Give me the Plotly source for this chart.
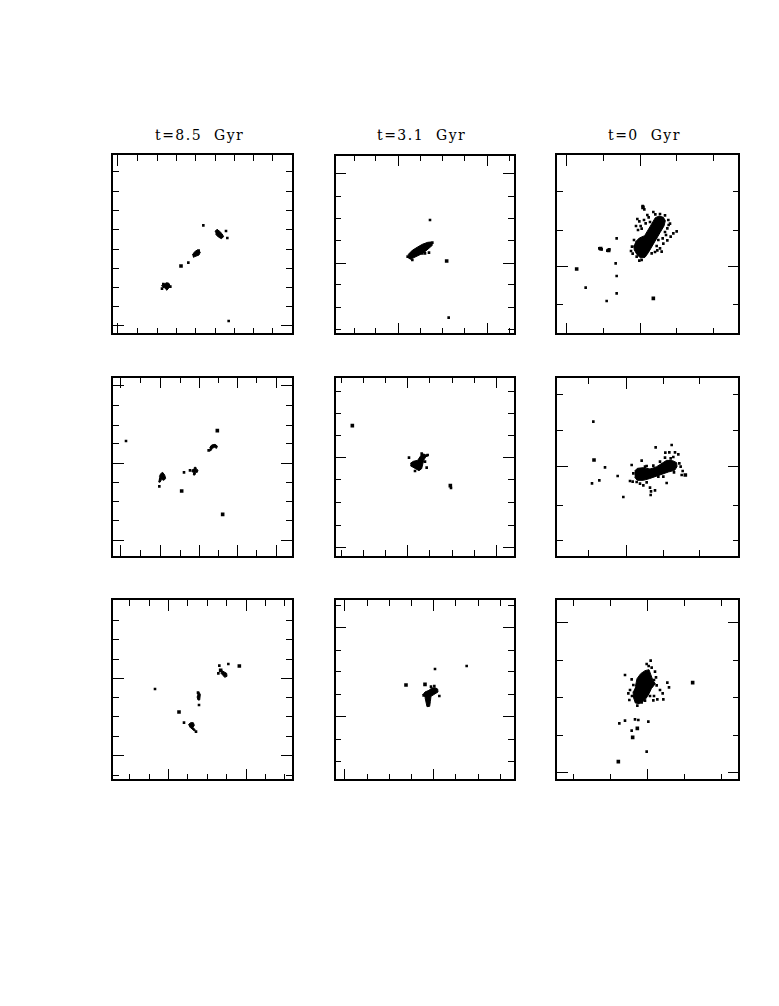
import plotly.graph_objects as go

# ---------------------------------------------------------------
# DATA  (particle positions, arbitrary panel units)
# ---------------------------------------------------------------
titles = ["t=8.5\u00a0\u00a0Gyr", "t=3.1\u00a0\u00a0Gyr", "t=0\u00a0\u00a0Gyr"]

# ---- row 1, col 1
p11_dots = [(310, 316), (378, 333), (382, 354), (265, 428), (386, 603), (190, 492), (296, 392),
            (186, 506), (211, 500)]
p11_big = [(243, 438)]
p11_clumps = [
    [(345, 334), (351, 328), (359, 334), (366, 341), (371, 350), (364, 356), (355, 351), (347, 343)],
    [(277, 405), (284, 395), (292, 390), (301, 396), (297, 405), (288, 409), (279, 412)],
    [(184, 497), (192, 493), (200, 488), (207, 490), (210, 498), (205, 506), (200, 511), (196, 504), (188, 502)],
]

# ---- row 1, col 2
p12_dots = [(315, 300), (371, 593), (255, 413), (318, 372), (312, 398), (300, 400), (248, 410),
            (322, 368), (292, 400), (262, 420)]
p12_big = [(365, 423)]
p12_clumps = [
    [(250, 403), (262, 391), (278, 381), (292, 373), (308, 367), (318, 366), (322, 376), (312, 386),
     (300, 395), (285, 404), (270, 412), (256, 418), (249, 412)],
]

# ---- row 1, col 3
p13_dots = [(278, 258), (283, 268), (262, 297), (268, 304), (272, 318), (275, 326), (287, 310),
            (300, 306), (310, 276), (316, 283), (355, 300), (360, 311), (352, 325), (345, 336),
            (370, 340), (380, 334), (362, 350), (352, 361), (340, 371), (330, 385), (322, 391),
            (315, 396), (243, 393), (248, 401), (264, 330), (292, 285), (335, 395), (305, 400),
            (148, 385), (155, 388), (172, 392), (178, 388), (200, 355), (197, 430), (200, 468),
            (200, 520), (107, 503), (170, 543), (260, 410), (275, 420), (325, 360), (258, 318),
            (282, 300), (296, 292), (338, 355), (348, 345), (252, 360), (246, 380), (268, 422),
            (330, 282), (345, 286), (356, 315), (320, 378)]
p13_big = [(80, 447), (310, 535), (152, 386), (176, 391), (279, 262)]
p13_clumps = [
    [(256, 366), (268, 354), (284, 347), (295, 328), (305, 308), (316, 293), (328, 288), (340, 292),
     (346, 302), (342, 318), (330, 338), (318, 360), (305, 382), (295, 398), (285, 412), (272, 414),
     (261, 404), (253, 390), (251, 377)],
]

# ---- row 2, col 1
p21_dots = [(78, 228), (252, 322), (178, 364), (270, 316), (326, 256)]
p21_big = [(352, 197), (245, 378), (368, 448)]
p21_clumps = [
    [(329, 248), (335, 240), (345, 238), (352, 243), (350, 250), (343, 247), (337, 250), (333, 257), (329, 257)],
    [(275, 315), (282, 313), (283, 307), (288, 307), (289, 313), (294, 315), (292, 322), (287, 322),
     (285, 330), (280, 330), (281, 322), (275, 320)],
    [(178, 335), (182, 326), (188, 322), (194, 330), (197, 340), (192, 346), (185, 343), (180, 352), (175, 350)],
]

# ---- row 2, col 2
p22_dots = [(252, 278), (305, 308), (304, 272), (378, 369), (290, 266), (308, 270), (262, 300),
            (300, 290), (270, 318)]
p22_big = [(82, 182), (376, 362)]
p22_clumps = [
    [(256, 295), (265, 289), (278, 286), (285, 276), (290, 268), (298, 267), (302, 276), (296, 286),
     (292, 300), (290, 311), (282, 317), (272, 312), (262, 305), (256, 302)],
]

# ---- row 2, col 3
p23_dots = [(245, 300), (275, 287), (290, 303), (317, 247), (346, 263), (358, 262), (365, 240),
            (375, 262), (385, 268), (370, 276), (392, 305), (398, 318), (395, 330), (340, 335),
            (350, 354), (300, 368), (303, 379), (315, 376), (302, 390), (260, 351), (248, 350),
            (270, 356), (280, 361), (130, 170), (165, 307), (203, 333), (148, 346), (126, 355),
            (220, 396), (240, 348), (355, 300), (362, 280), (330, 290), (265, 325), (325, 335),
            (250, 325), (285, 305), (310, 302), (345, 278), (388, 295), (372, 322), (290, 352)]
p23_big = [(132, 285), (406, 330)]
p23_clumps = [
    [(254, 318), (262, 310), (280, 308), (300, 312), (320, 305), (338, 292), (350, 286), (368, 287),
     (380, 293), (381, 305), (374, 316), (355, 321), (335, 329), (315, 335), (298, 341), (280, 346),
     (262, 346), (254, 337)],
]

# ---- row 3, col 1
p31_dots = [(358, 227), (385, 222), (165, 297), (297, 345), (252, 398), (288, 425), (355, 250),
            (294, 308)]
p31_big = [(418, 228), (237, 366), (362, 241)]
p31_clumps = [
    [(366, 242), (372, 246), (380, 250), (381, 259), (374, 262), (368, 255), (362, 249)],
    [(292, 312), (297, 307), (301, 313), (301, 322), (299, 330), (294, 330), (291, 320)],
    [(265, 404), (272, 398), (280, 398), (283, 406), (279, 412), (286, 420), (283, 423), (274, 414), (267, 409)],
]

# ---- row 3, col 2
p32_dots = [(330, 237), (425, 228), (318, 290), (343, 318), (328, 288), (296, 316)]
p32_big = [(243, 285), (300, 283)]
p32_clumps = [
    [(293, 315), (300, 306), (312, 301), (320, 294), (330, 293), (338, 297), (339, 306), (330, 312),
     (318, 319), (316, 335), (314, 349), (306, 350), (303, 335), (300, 322)],
]

# ---- row 3, col 3
p33_dots = [(302, 212), (290, 222), (305, 233), (315, 245), (245, 268), (225, 255), (240, 300),
            (235, 310), (320, 286), (330, 300), (338, 310), (340, 328), (322, 328), (310, 331),
            (352, 278), (357, 292), (238, 330), (262, 347), (275, 337), (255, 388), (265, 390),
            (295, 395), (225, 392), (208, 400), (245, 422), (290, 485), (312, 318), (318, 262),
            (250, 285), (246, 318), (296, 228), (312, 270), (300, 318), (285, 332)]
p33_big = [(428, 278), (262, 415), (248, 442), (205, 515)]
p33_clumps = [
    [(256, 290), (261, 266), (272, 251), (285, 242), (297, 239), (304, 255), (309, 272), (316, 281),
     (304, 296), (297, 311), (289, 324), (280, 334), (268, 341), (256, 339), (251, 324), (249, 305)],
]

panel_dots = [p11_dots, p12_dots, p13_dots, p21_dots, p22_dots, p23_dots, p31_dots, p32_dots, p33_dots]
panel_big = [p11_big, p12_big, p13_big, p21_big, p22_big, p23_big, p31_big, p32_big, p33_big]
panel_clumps = [p11_clumps, p12_clumps, p13_clumps, p21_clumps, p22_clumps, p23_clumps,
                p31_clumps, p32_clumps, p33_clumps]

# ---------------------------------------------------------------
# LAYOUT CONFIG (frames and tick positions in panel units)
# ---------------------------------------------------------------
WIN_W, WIN_H = 779, 1006
OFF = 8                      # page body margin
W, H = WIN_W - OFF, WIN_H - OFF
# (origin_x, origin_y, x0, x1, y_top, y_bottom): panel unit u -> window pixel origin + u/3
frames = [
    (100, 120, 40, 575, 105, 640), (325, 120, 32, 567, 107, 640), (550, 120, 22, 565, 105, 640),
    (100, 365, 40, 575, 38, 573), (325, 365, 32, 567, 38, 573), (550, 365, 22, 565, 40, 573),
    (100, 590, 40, 575, 30, 568), (325, 590, 32, 567, 30, 568), (550, 590, 22, 565, 30, 568),
]
ticks = [
    dict(xM=[52], xm=[112, 172, 228, 287, 345, 402, 460, 518],
         yM=[617], ym=[155, 213, 272, 327, 388, 445, 503, 560]),
    dict(xM=[220, 487], xm=[88, 153, 287, 353, 420, 553],
         yM=[162, 430], ym=[230, 297, 363, 495, 563, 628]),
    dict(xM=[50, 270], xm=[160, 380, 490],
         yM=[440], ym=[215, 330, 553]),
    dict(xM=[62, 182, 297, 412, 530], xm=[122, 240, 355, 470],
         yM=[62, 295, 527], ym=[122, 182, 237, 353, 410, 468]),
    dict(xM=[248, 515], xm=[50, 115, 182, 315, 382, 448],
         yM=[278, 548], ym=[80, 145, 212, 345, 412, 482]),
    dict(xM=[230], xm=[115, 340, 448],
         yM=[305], ym=[88, 195, 420, 527]),
    dict(xM=[205, 438], xm=[88, 148, 262, 322, 380, 497, 552],
         yM=[265, 497], ym=[90, 148, 207, 322, 380, 438, 555]),
    dict(xM=[60, 327], xm=[127, 193, 260, 393, 460, 527],
         yM=[113, 380], ym=[47, 180, 245, 312, 447, 513]),
    dict(xM=[293], xm=[70, 180, 403, 515],
         yM=[98, 547], ym=[212, 322, 435]),
]

fig = go.Figure()

for i in range(9):
    ox, oy, x0, x1, yt, yb = frames[i]
    suffix = "" if i == 0 else str(i + 1)
    xref, yref = "x" + suffix, "y" + suffix

    # clumps (dense particle regions)
    cx, cy = [], []
    for poly in panel_clumps[i]:
        cx += [p[0] for p in poly] + [None]
        cy += [p[1] for p in poly] + [None]
    fig.add_trace(go.Scatter(x=cx, y=cy, mode="lines", fill="toself", fillcolor="black",
                             line=dict(color="black", width=1), xaxis=xref, yaxis=yref,
                             hoverinfo="skip", showlegend=False))
    d = panel_dots[i]
    fig.add_trace(go.Scatter(x=[p[0] for p in d], y=[p[1] for p in d], mode="markers",
                             marker=dict(symbol="square", size=2.6, color="black", line=dict(width=0)),
                             xaxis=xref, yaxis=yref, showlegend=False))
    b = panel_big[i]
    fig.add_trace(go.Scatter(x=[p[0] for p in b], y=[p[1] for p in b], mode="markers",
                             marker=dict(symbol="square", size=3.6, color="black", line=dict(width=0)),
                             xaxis=xref, yaxis=yref, showlegend=False))

    t = ticks[i]
    axis_common = dict(showgrid=False, zeroline=False, showticklabels=False, showline=True,
                       linecolor="black", linewidth=1.5, mirror="allticks", ticks="inside",
                       ticklen=11, tickwidth=1, tickcolor="black", tickmode="array", fixedrange=True)
    xd = [(ox + x0 / 3 - OFF) / W, (ox + x1 / 3 - OFF) / W]
    yd = [1 - (oy + yb / 3 - OFF) / H, 1 - (oy + yt / 3 - OFF) / H]
    fig.layout["xaxis" + suffix] = dict(axis_common, domain=xd, range=[x0, x1], anchor=yref,
                                        tickvals=t["xM"],
                                        minor=dict(tickmode="array", tickvals=t["xm"], ticks="inside",
                                                   ticklen=6, tickwidth=1, tickcolor="black"))
    fig.layout["yaxis" + suffix] = dict(axis_common, domain=yd, range=[yb, yt], anchor=xref,
                                        tickvals=t["yM"],
                                        minor=dict(tickmode="array", tickvals=t["ym"], ticks="inside",
                                                   ticklen=6, tickwidth=1, tickcolor="black"))

# column titles
for c in range(3):
    ox, oy, x0, x1, yt, yb = frames[c]
    xc = (ox + (x0 + x1) / 6 - 3 - OFF) / W
    fig.add_annotation(text='<span style="letter-spacing:1.5px">' + titles[c] + '</span>',
                       xref="paper", yref="paper", x=xc, y=1 - (135 - OFF) / H,
                       showarrow=False, xanchor="center", yanchor="middle",
                       font=dict(family="DejaVu Serif", size=14, color="black"))

fig.update_layout(width=W, height=H, margin=dict(l=0, r=0, t=0, b=0),
                  paper_bgcolor="white", plot_bgcolor="white", showlegend=False)

fig.write_html("out.html")
